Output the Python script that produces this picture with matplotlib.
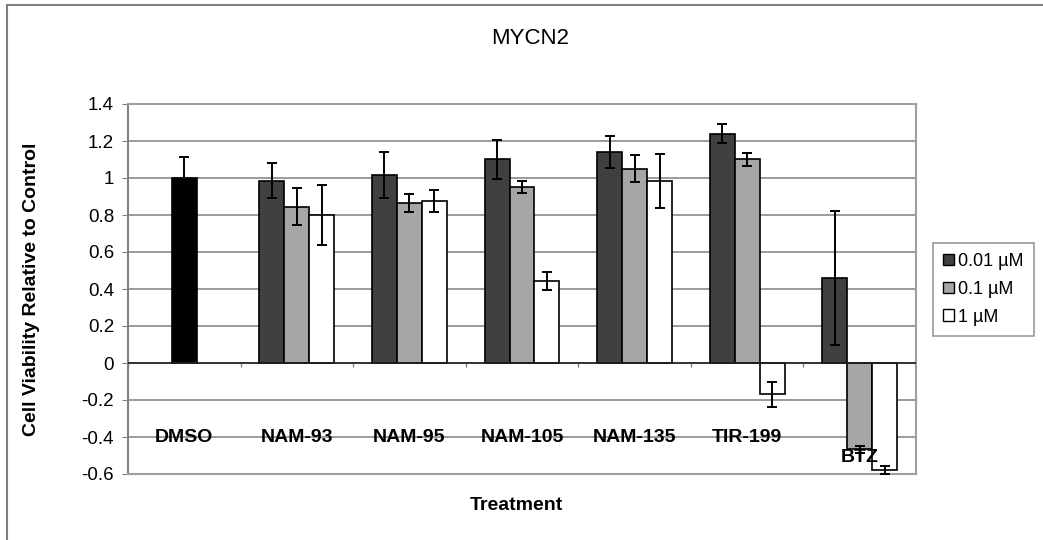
import numpy as np
import matplotlib
matplotlib.use("Agg")
import matplotlib.pyplot as plt
from matplotlib.patches import Rectangle

plt.rcParams['font.family'] = ['Liberation Sans', 'DejaVu Sans']

# ---- data ----
treatments = ["DMSO", "NAM-93", "NAM-95", "NAM-105", "NAM-135", "TIR-199", "BTZ"]
series_names = ["0.01 \u00b5M", "0.1 \u00b5M", "1 \u00b5M"]
vals_001 = [np.nan, 0.985, 1.015, 1.10, 1.14, 1.24, 0.46]
err_001 = [np.nan, 0.095, 0.125, 0.107, 0.087, 0.052, 0.364]
vals_01 = [1.00, 0.845, 0.865, 0.95, 1.05, 1.10, -0.467]
err_01 = [0.115, 0.10, 0.05, 0.033, 0.074, 0.035, 0.02]
vals_1 = [np.nan, 0.80, 0.875, 0.443, 0.982, -0.17, -0.58]
err_1 = [np.nan, 0.16, 0.06, 0.047, 0.146, 0.068, 0.022]
yticks = [-0.6, -0.4, -0.2, 0, 0.2, 0.4, 0.6, 0.8, 1, 1.2, 1.4]
ytick_labels = ["-0.6", "-0.4", "-0.2", "0", "0.2", "0.4", "0.6", "0.8", "1", "1.2", "1.4"]

colors = ["#404040", "#a6a6a6", "#ffffff"]
dmso_color = "#000000"

W, H = 1043, 540
fig = plt.figure(figsize=(W / 100, H / 100), dpi=100)
ax = fig.add_axes([128 / W, 1 - 474 / H, (916 - 128) / W, (474 - 104) / H])

n = len(treatments)
centers = np.arange(n) + 0.5
bw = 0.222
all_vals = [vals_001, vals_01, vals_1]
all_errs = [err_001, err_01, err_1]
handles = []
for k, (v, e) in enumerate(zip(all_vals, all_errs)):
    x = centers + (k - 1) * bw
    cols = [colors[k]] * n
    if k == 1:
        cols[0] = dmso_color
    ax.bar(x, v, width=bw, color=cols, edgecolor="black", linewidth=1.2, zorder=3)
    ax.errorbar(x, v, yerr=e, fmt="none", ecolor="black", elinewidth=1.4,
                capsize=3.5, capthick=1.4, zorder=4)
    handles.append(Rectangle((0, 0), 1, 1, facecolor=colors[k], edgecolor="black", linewidth=1))

ax.set_xlim(0, n)
ax.set_ylim(-0.6, 1.4)
ax.set_yticks(yticks)
ax.set_yticklabels(ytick_labels, fontsize=13.5)
ax.tick_params(axis="y", length=4, color="#808080", pad=6)
ax.set_xticks([])
ax.yaxis.grid(True, color="#808080", linewidth=1.1, zorder=0)
ax.set_axisbelow(True)
ax.axhline(0, color="#222222", linewidth=1.2, zorder=3.5)
ax.vlines(np.arange(n + 1), -0.022, 0, color="#808080", linewidth=1, zorder=3)
for side in ["top", "right"]:
    ax.spines[side].set_color("#a0a0a0")
    ax.spines[side].set_linewidth(1.5)
ax.spines["left"].set_color("#808080")
ax.spines["left"].set_linewidth(1.5)
ax.spines["bottom"].set_color("#a0a0a0")
ax.spines["bottom"].set_linewidth(1.5)

# category labels
for i, t in enumerate(treatments):
    yy = -0.512 if t == "BTZ" else -0.402
    ax.text(centers[i], yy, t, ha="center", va="center", fontsize=14,
            fontweight="bold", zorder=6)

ax.set_ylabel("Cell Viability Relative to Control", fontsize=14, fontweight="bold")
ax.yaxis.set_label_coords((40 - 128) / (916 - 128), 0.5)
fig.text(516 / W, 1 - 505 / H, "Treatment", ha="center", va="center",
         fontsize=14, fontweight="bold")
fig.text(530 / W, 1 - 38 / H, "MYCN2", ha="center", va="center", fontsize=16)

leg = fig.legend(handles, series_names, loc="upper left",
                 bbox_to_anchor=(933 / W, 1 - 243 / H), fontsize=13,
                 frameon=True, fancybox=False, edgecolor="#808080",
                 handlelength=0.6, handleheight=0.6, handletextpad=0.25,
                 labelspacing=0.6, borderpad=0.55, borderaxespad=0)
leg.get_frame().set_linewidth(1.2)

# outer chart border
fig.patches.append(Rectangle((7 / W, -0.05), 1.1, 1 - 5 / H + 0.05,
                             transform=fig.transFigure, fill=False,
                             edgecolor="#808080", linewidth=1.5))

fig.savefig("out.png", dpi=100)
